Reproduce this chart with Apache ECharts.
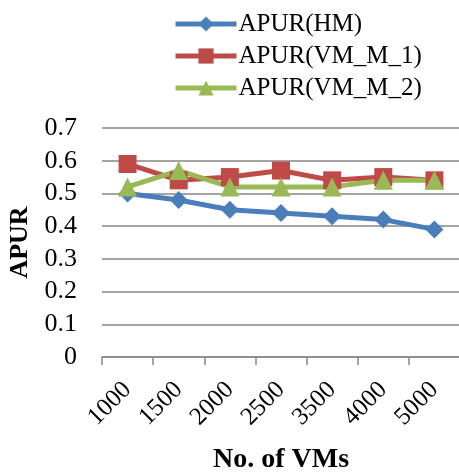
<!DOCTYPE html>
<html><head><meta charset="utf-8">
<script src="https://cdn.jsdelivr.net/npm/echarts@6/dist/echarts.min.js"></script>
<style>html,body{margin:0;padding:0;background:#fff}#c{width:459px;height:472px}</style>
</head><body><div id="c"></div>
<script>
const categories = ['1000','1500','2000','2500','3500','4000','5000'];
const apurHM = [0.50, 0.48, 0.45, 0.44, 0.43, 0.42, 0.39];
const apurVM1 = [0.59, 0.54, 0.55, 0.57, 0.54, 0.55, 0.54];
const apurVM2 = [0.52, 0.57, 0.52, 0.52, 0.52, 0.54, 0.54];
const seriesNames = ['APUR(HM)', 'APUR(VM_M_1)', 'APUR(VM_M_2)'];
const FONT = 'Liberation Serif';
const chart = echarts.init(document.getElementById('c'), null, {renderer: 'canvas'});
function mk(name, data, color, symbol, size) {
  return {
    name, type: 'line', data, symbol, symbolSize: size,
    lineStyle: {color, width: 5}, itemStyle: {color},
    animation: false
  };
}
chart.setOption({
  animation: false,
  textStyle: {fontFamily: FONT},
  legend: {
    orient: 'vertical', left: 168, top: 6, itemGap: 6,
    itemWidth: 61, itemHeight: 19,
    lineStyle: {width: 5},
    textStyle: {fontFamily: FONT, fontSize: 25, lineHeight: 26, color: '#000', padding: [0,0,0,-3]},
    data: seriesNames
  },
  grid: {left: 102, top: 128, width: 358, height: 229, containLabel: false, outerBoundsMode: 'none'},
  xAxis: {
    type: 'category', data: categories, boundaryGap: true,
    name: 'No. of VMs', nameLocation: 'middle', nameGap: 89,
    nameTextStyle: {fontFamily: FONT, fontSize: 28, fontWeight: 'bold', color: '#000'},
    axisLine: {lineStyle: {color: '#868686', width: 1.5}},
    axisTick: {show: true, length: 8, lineStyle: {color: '#868686', width: 1.5}},
    axisLabel: {rotate: 45, margin: 29, fontFamily: FONT, fontSize: 25, color: '#000'}
  },
  yAxis: {
    type: 'value', min: 0, max: 0.7, interval: 0.1,
    name: 'APUR', nameLocation: 'middle', nameGap: 69, nameRotate: 90,
    nameTextStyle: {fontFamily: FONT, fontSize: 26, fontWeight: 'bold', color: '#000'},
    axisLine: {show: false}, axisTick: {show: false},
    axisLabel: {margin: 25, fontFamily: FONT, fontSize: 26, color: '#000',
      formatter: v => (Math.round(v*10)/10).toString()},
    splitLine: {lineStyle: {color: '#868686', width: 1.5}}
  },
  series: [
    mk(seriesNames[0], apurHM, '#4A7EBB', 'diamond', 18),
    mk(seriesNames[1], apurVM1, '#BE4B48', 'rect', 18),
    mk(seriesNames[2], apurVM2, '#98B954', 'triangle', 19)
  ]
});
</script></body></html>
